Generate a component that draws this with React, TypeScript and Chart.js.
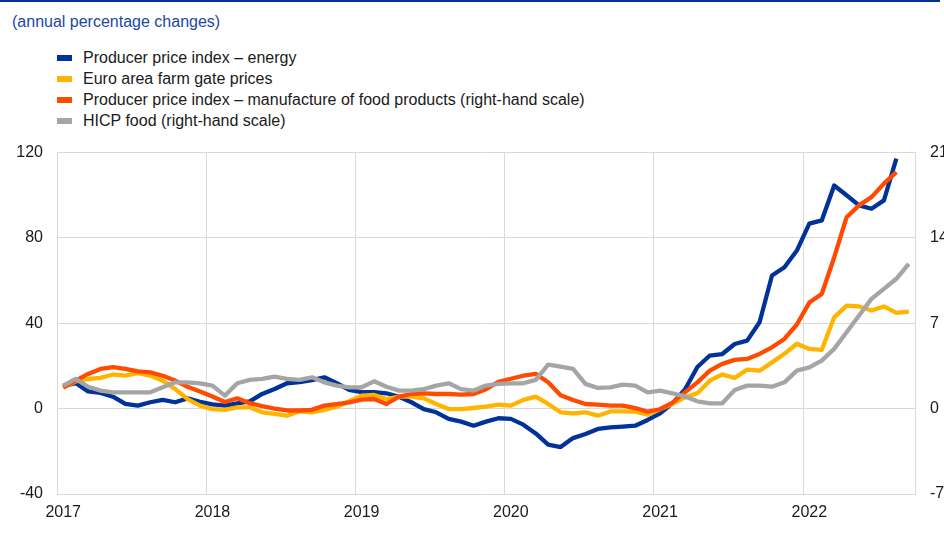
import React, { useEffect, useRef } from 'react';
import { Chart, registerables } from 'chart.js';
Chart.register(...registerables);

const years = ['2017', '2018', '2019', '2020', '2021', '2022'];
const monthCount = 69; // Jan 2017 .. Sep 2022
const monthLabels: string[] = [];
for (let i = 0; i < monthCount; i++) {
  monthLabels.push(years[Math.floor(i / 12)] + '-' + String((i % 12) + 1).padStart(2, '0'));
}

const seriesNames = [
  'Producer price index – energy',
  'Euro area farm gate prices',
  'Producer price index – manufacture of food products (right-hand scale)',
  'HICP food (right-hand scale)',
];
const seriesColors = ['#003299', '#ffb400', '#ff4b00', '#a5a5a5'];

const ppiEnergy = [
  10.5, 12.0, 8.1, 7.4, 5.6, 2.2, 1.4, 3.0, 4.1, 3.0, 4.8, 3.2,
  2.0, 1.4, 2.5, 3.4, 6.9, 9.2, 11.9, 12.4, 13.4, 14.7, 11.9, 8.8,
  7.7, 7.7, 7.2, 5.6, 3.0, -0.2, -1.7, -4.8, -6.1, -8.0, -6.1, -4.5,
  -4.8, -7.5, -11.6, -16.9, -18.0, -13.8, -11.9, -9.5, -8.8, -8.4, -8.0, -5.3,
  -2.2, 2.5, 9.0, 19.5, 24.9, 25.6, 30.3, 31.9, 40.5, 62.4, 66.3, 74.1,
  86.7, 88.2, 104.6, 100.0, 95.3, 93.7, 97.6, 117.2,
];
const farmGate = [
  9.7, 12.8, 13.9, 14.4, 16.0, 15.5, 16.6, 15.5, 13.1, 9.2, 4.5, 1.4,
  -0.2, -0.6, 0.6, 0.6, -1.7, -2.5, -3.3, -1.3, -1.7, -0.6, 0.9, 3.5,
  6.1, 6.4, 4.5, 5.6, 5.6, 4.8, 2.2, -0.2, -0.2, 0.3, 0.9, 1.9,
  1.4, 4.1, 5.6, 2.2, -1.7, -2.2, -1.7, -3.3, -1.3, -1.3, -1.4, -2.8,
  -0.3, 2.2, 5.3, 7.2, 13.1, 16.0, 14.4, 18.3, 17.8, 21.7, 25.7, 30.4,
  28.0, 27.5, 42.8, 48.3, 47.9, 46.0, 47.9, 44.9, 45.5,
];
const ppiFood = [
  1.75, 2.3, 2.85, 3.26, 3.4, 3.26, 3.06, 2.98, 2.7, 2.3, 1.8, 1.4,
  1.0, 0.55, 0.85, 0.45, 0.2, 0.0, -0.15, -0.15, -0.1, 0.25, 0.38, 0.52,
  0.74, 0.79, 0.38, 0.99, 1.2, 1.26, 1.2, 1.2, 1.15, 1.2, 1.6, 2.2,
  2.45, 2.7, 2.85, 2.16, 1.1, 0.71, 0.38, 0.33, 0.25, 0.25, 0.05, -0.25,
  -0.05, 0.5, 1.34, 2.16, 3.12, 3.67, 4.0, 4.08, 4.49, 5.03, 5.72, 6.9,
  8.7, 9.4, 12.4, 15.7, 16.67, 17.35, 18.45, 19.4,
];
const hicpFood = [
  1.89, 2.44, 1.8, 1.48, 1.34, 1.34, 1.34, 1.34, 1.75, 2.16, 2.16, 2.08,
  1.89, 1.07, 2.08, 2.36, 2.44, 2.63, 2.44, 2.36, 2.57, 2.16, 1.89, 1.75,
  1.75, 2.24, 1.8, 1.48, 1.48, 1.6, 1.89, 2.08, 1.6, 1.48, 1.89, 2.03,
  2.08, 2.08, 2.36, 3.61, 3.45, 3.26, 2.03, 1.7, 1.75, 1.97, 1.89, 1.34,
  1.48, 1.26, 0.99, 0.6, 0.44, 0.44, 1.53, 1.89, 1.89, 1.8, 2.16, 3.12,
  3.39, 3.94, 4.9, 6.27, 7.64, 9.0, 9.83, 10.65, 11.88,
];

const leftTicks = [-40, 0, 40, 80, 120];
const rightTicks = [-7, 0, 7, 14, 21];

const FONT = "'Liberation Sans', Arial, Helvetica, sans-serif";
const GRID = '#d9d9d9';
const TEXT = '#1a1a1a';

export default function App() {
  const ref = useRef<HTMLCanvasElement | null>(null);

  useEffect(() => {
    if (!ref.current) return;
    const chart = new Chart(ref.current, {
      type: 'line',
      data: {
        labels: monthLabels,
        datasets: [
          { label: seriesNames[0], data: ppiEnergy, borderColor: seriesColors[0], yAxisID: 'y', order: 4 },
          { label: seriesNames[1], data: farmGate, borderColor: seriesColors[1], yAxisID: 'y', order: 3 },
          { label: seriesNames[2], data: ppiFood, borderColor: seriesColors[2], yAxisID: 'y2', order: 2 },
          { label: seriesNames[3], data: hicpFood, borderColor: seriesColors[3], yAxisID: 'y2', order: 1 },
        ].map((d) => ({
          ...d,
          backgroundColor: d.borderColor,
          borderWidth: 4.3,
          pointRadius: 0,
          tension: 0,
          borderJoinStyle: 'round' as const,
          fill: false,
        })),
      },
      options: {
        animation: false,
        responsive: false,
        maintainAspectRatio: false,
        layout: { padding: { top: 0, left: 0, right: 0, bottom: 0 } },
        plugins: { legend: { display: false }, tooltip: { enabled: false }, title: { display: false } },
        scales: {
          x: {
            type: 'category',
            offset: true,
            grid: {
              offset: true,
              drawTicks: false,
              color: (c: any) => (c.type !== 'tick' || c.index % 12 === 0 ? GRID : 'rgba(0,0,0,0)'),
              lineWidth: 1,
            },
            border: { display: false },
            ticks: {
              autoSkip: false,
              maxRotation: 0,
              minRotation: 0,
              padding: 9,
              color: TEXT,
              font: { family: FONT, size: 16 },
              callback: (_v: any, i: number) => (i % 12 === 0 ? years[i / 12] : ''),
            },
            afterFit: (s: any) => { s.height = 41; },
          },
          y: {
            position: 'left',
            min: leftTicks[0],
            max: leftTicks[leftTicks.length - 1],
            afterBuildTicks: (s: any) => { s.ticks = leftTicks.map((v) => ({ value: v })); },
            grid: { color: GRID, drawTicks: false, lineWidth: 1 },
            border: { display: true, color: GRID },
            ticks: { padding: 14, color: TEXT, font: { family: FONT, size: 16 } },
            afterFit: (s: any) => { s.width = 57; },
          },
          y2: {
            position: 'right',
            min: rightTicks[0],
            max: rightTicks[rightTicks.length - 1],
            afterBuildTicks: (s: any) => { s.ticks = rightTicks.map((v) => ({ value: v })); },
            grid: { display: false, drawTicks: false },
            border: { display: true, color: GRID },
            ticks: { padding: 15, color: TEXT, font: { family: FONT, size: 16 } },
            afterFit: (s: any) => { s.width = 29; },
          },
        },
      },
    });
    return () => chart.destroy();
  }, []);

  return (
    <div style={{ position: 'absolute', left: 0, top: 0, width: 944, height: 535, fontFamily: FONT, background: '#fff', overflow: 'hidden' }}>
      <div style={{ position: 'absolute', left: 0, top: 0, width: 940, height: 2, background: '#003299' }} />
      <div style={{ position: 'absolute', left: 12, top: 12, fontSize: 16, color: '#1a47a6', lineHeight: '20px' }}>
        (annual percentage changes)
      </div>
      <div style={{ position: 'absolute', left: 57, top: 47 }}>
        {seriesNames.map((n, i) => (
          <div key={n} style={{ display: 'flex', alignItems: 'center', height: 21.2, fontSize: 16, lineHeight: '18px', color: TEXT, whiteSpace: 'nowrap' }}>
            <span style={{ display: 'inline-block', width: 15, height: 6, background: seriesColors[i], marginRight: 11 }} />
            <span>{n}</span>
          </div>
        ))}
      </div>
      <div style={{ position: 'absolute', left: 0, top: 128, width: 944, height: 407 }}>
        <canvas ref={ref} width={944} height={407} style={{ display: 'block', width: 944, height: 407 }} />
      </div>
    </div>
  );
}
